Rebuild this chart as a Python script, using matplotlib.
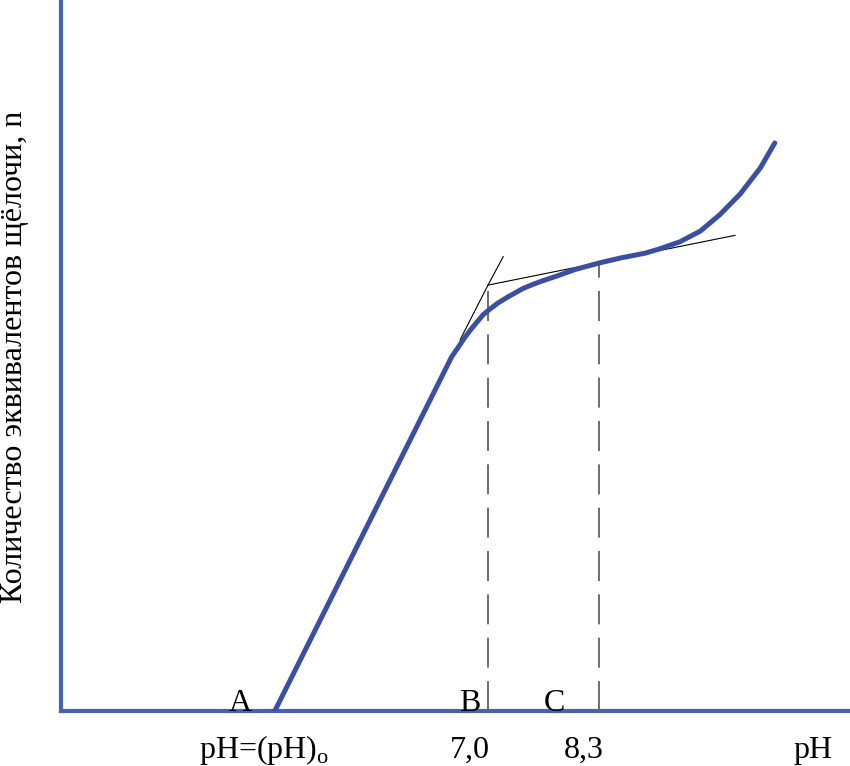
import matplotlib
matplotlib.use("Agg")
import matplotlib.pyplot as plt
import matplotlib.transforms as mtransforms

plt.rcParams['font.family'] = ['Liberation Serif', 'DejaVu Serif']
plt.rcParams['mathtext.fontset'] = 'custom'
plt.rcParams['mathtext.rm'] = 'Liberation Serif'

# titration curve: pH vs equivalents of alkali
ph = [4.48, 6.57, 6.65, 6.73, 6.80, 6.87, 6.94, 7.02, 7.12, 7.23, 7.32,
      7.41, 7.51, 7.62, 7.82, 8.03, 8.31, 8.56, 8.86, 9.03, 9.27, 9.51,
      9.74, 9.98, 10.22, 10.39]
n = [0.00, 4.98, 5.12, 5.26, 5.37, 5.47, 5.57, 5.65, 5.74, 5.82, 5.88,
     5.94, 5.99, 6.04, 6.12, 6.21, 6.30, 6.37, 6.44, 6.50, 6.60, 6.75,
     6.98, 7.27, 7.64, 7.99]

# tangent lines
tan1_ph = [6.67, 7.00, 7.18]
tan1_n = [5.22, 5.99, 6.39]
tan2_ph = [7.00, 9.92]
tan2_n = [5.99, 6.69]

# vertical dashed markers (pH, top of line)
marks_ph = [7.00, 8.31]
marks_n = [5.99, 6.30]

point_labels = ['A', 'B', 'C']
point_ph = [4.07, 6.79, 7.79]

tick_labels = [r'pH=(pH)$_\mathregular{o}$', '7,0', '8,3', 'pH']
tick_ph = [4.35, 6.79, 8.13, 10.84]

ylabel = 'Количество эквивалентов щёлочи, n'

fig = plt.figure(figsize=(8.5, 7.66), dpi=100)
ax = fig.add_axes([61 / 850, 55 / 766, 789 / 850, 711 / 766])

spine_color = '#4563b0'
ax.plot(ph, n, color='#3b4fa2', linewidth=3.6, solid_capstyle='round',
        solid_joinstyle='round', zorder=3)
ax.plot(tan1_ph, tan1_n, color='black', linewidth=0.8, zorder=2)
ax.plot(tan2_ph, tan2_n, color='black', linewidth=0.8, zorder=2)
for x, top in zip(marks_ph, marks_n):
    ax.plot([x, x], [0, top], color='#555555', linewidth=1.2,
            dashes=(18, 8), zorder=1)

for lab, x in zip(point_labels, point_ph):
    ax.text(x, 0.0, lab, fontsize=23, ha='center', va='baseline', zorder=4)

trans = mtransforms.blended_transform_factory(ax.transData, ax.transAxes)
for lab, x in zip(tick_labels, tick_ph):
    ax.text(x, -0.066, lab, fontsize=23, ha='center', va='baseline',
            transform=trans, clip_on=False)

fig.text(15 / 850, 1 - 357 / 766, ylabel, fontsize=23, rotation=90,
         ha='center', va='center')

ax.set_xlim(1.953, 11.279)
ax.set_ylim(0, 10)
ax.set_xticks([])
ax.set_yticks([])
for side in ['top', 'right']:
    ax.spines[side].set_visible(False)
for side in ['left', 'bottom']:
    ax.spines[side].set_color(spine_color)
    ax.spines[side].set_linewidth(3)

fig.savefig('out.png', dpi=100)
